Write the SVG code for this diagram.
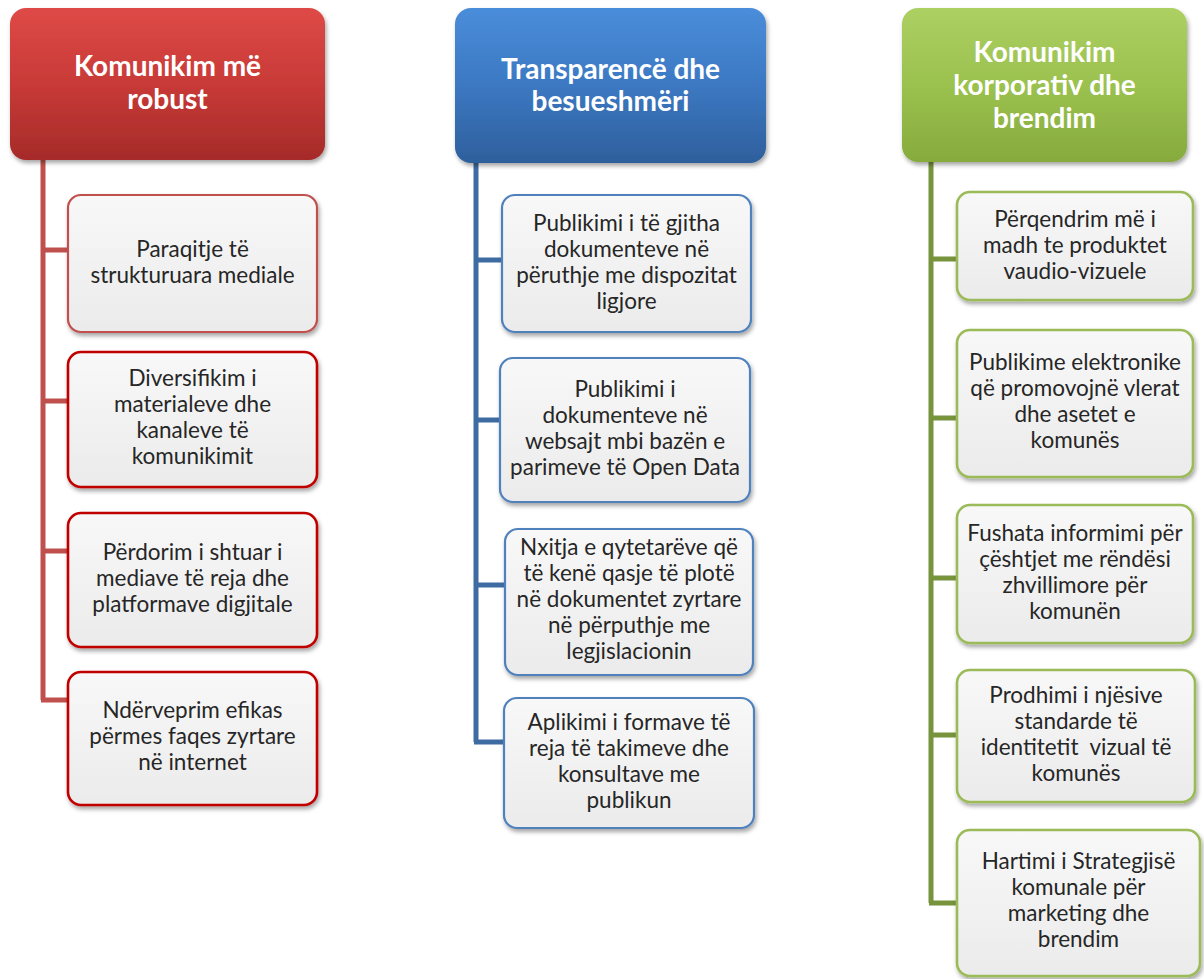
<svg xmlns="http://www.w3.org/2000/svg" width="1204" height="979" viewBox="0 0 1204 979">
<defs>
  <linearGradient id="gRed" x1="0" y1="0" x2="0" y2="1">
    <stop offset="0" stop-color="#DE4A47"/>
    <stop offset="0.5" stop-color="#C83A37"/>
    <stop offset="1" stop-color="#A52B29"/>
  </linearGradient>
  <linearGradient id="gBlue" x1="0" y1="0" x2="0" y2="1">
    <stop offset="0" stop-color="#4A8DDA"/>
    <stop offset="0.5" stop-color="#3C78C2"/>
    <stop offset="1" stop-color="#2E5F9C"/>
  </linearGradient>
  <linearGradient id="gGreen" x1="0" y1="0" x2="0" y2="1">
    <stop offset="0" stop-color="#ACD062"/>
    <stop offset="0.5" stop-color="#9BC14F"/>
    <stop offset="1" stop-color="#86AB3D"/>
  </linearGradient>
  <linearGradient id="gBox" x1="0" y1="0" x2="0" y2="1">
    <stop offset="0" stop-color="#F8F8F8"/>
    <stop offset="1" stop-color="#EBEBEB"/>
  </linearGradient>
  <filter id="sh" x="-10%" y="-10%" width="125%" height="130%">
    <feDropShadow dx="1.5" dy="3" stdDeviation="2.2" flood-color="#000" flood-opacity="0.35"/>
  </filter>
</defs>
<style>
  .hdr { stroke: none; filter: url(#sh); }
  .box { fill: url(#gBox); stroke-width: 2.2; filter: url(#sh); }
  .r1 { stroke: #C0504D; }
  .r2 { stroke: #C00000; stroke-width: 2.6; }
  .b { stroke: #4F81BD; }
  .g { stroke: #9BBB59; stroke-width: 2.6; }
  .ht { font-family: Lato, "Liberation Sans", sans-serif; font-weight: bold; font-size: 28px; fill: #FFFFFF; text-anchor: middle; }
  .t { font-family: Lato, "Liberation Sans", sans-serif; font-size: 22.5px; fill: #262626; text-anchor: middle; }
  .pre { white-space: pre; }
  .cr { stroke: #C0504D; stroke-width: 5; fill: none; }
  .cb { stroke: #3F6BA3; stroke-width: 5; fill: none; }
  .cg { stroke: #77933C; stroke-width: 5; fill: none; }
</style>

<g id="connectors">
  <path class="cr" d="M43 160 V700 M43 250 H70 M43 401 H70 M43 551 H70 M41 700 H70"/>
  <path class="cb" d="M476 163 V742 M476 260 H504 M476 420 H502 M476 585 H507 M474 742 H506"/>
  <path class="cg" d="M931 162 V903 M931 259 H959 M931 418 H959 M931 578 H959 M931 735 H959 M929 903 H959"/>
</g>

<g id="h1">
  <rect class="hdr" x="10" y="8" width="315" height="152" rx="16" fill="url(#gRed)"/>
  <text class="ht" x="167.5" y="76">Komunikim më</text>
  <text class="ht" x="167.5" y="109">robust</text>
</g>
<g id="h2">
  <rect class="hdr" x="455" y="8" width="311" height="155" rx="16" fill="url(#gBlue)"/>
  <text class="ht" x="610.5" y="79">Transparencë dhe</text>
  <text class="ht" x="610.5" y="111">besueshmëri</text>
</g>
<g id="h3">
  <rect class="hdr" x="902" y="8" width="285" height="154" rx="16" fill="url(#gGreen)"/>
  <text class="ht" x="1044.5" y="62">Komunikim</text>
  <text class="ht" x="1044.5" y="95">korporativ dhe</text>
  <text class="ht" x="1044.5" y="128">brendim</text>
</g>

<g id="c1n1">
  <rect class="box r1" x="68" y="195" width="249" height="137" rx="13"/>
  <text class="t" x="192.5" y="257">Paraqitje të</text>
  <text class="t" x="192.5" y="283">strukturuara mediale</text>
</g>
<g id="c1n2">
  <rect class="box r2" x="68" y="352" width="249" height="135" rx="13"/>
  <text class="t" x="192.5" y="386">Diversifikim i</text>
  <text class="t" x="192.5" y="412">materialeve dhe</text>
  <text class="t" x="192.5" y="438">kanaleve të</text>
  <text class="t" x="192.5" y="464">komunikimit</text>
</g>
<g id="c1n3">
  <rect class="box r2" x="68" y="513" width="249" height="134" rx="13"/>
  <text class="t" x="192.5" y="560">Përdorim i shtuar i</text>
  <text class="t" x="192.5" y="586">mediave të reja dhe</text>
  <text class="t" x="192.5" y="612">platformave digjitale</text>
</g>
<g id="c1n4">
  <rect class="box r2" x="68" y="672" width="249" height="133" rx="13"/>
  <text class="t" x="192.5" y="718">Ndërveprim efikas</text>
  <text class="t" x="192.5" y="744">përmes faqes zyrtare</text>
  <text class="t" x="192.5" y="770">në internet</text>
</g>

<g id="c2n1">
  <rect class="box b" x="502" y="195" width="249" height="137" rx="13"/>
  <text class="t" x="626.5" y="231">Publikimi i të gjitha</text>
  <text class="t" x="626.5" y="257">dokumenteve në</text>
  <text class="t" x="626.5" y="283">përuthje me dispozitat</text>
  <text class="t" x="626.5" y="309">ligjore</text>
</g>
<g id="c2n2">
  <rect class="box b" x="500" y="358" width="250" height="144" rx="13"/>
  <text class="t" x="625" y="397">Publikimi i</text>
  <text class="t" x="625" y="423">dokumenteve në</text>
  <text class="t" x="625" y="449">websajt mbi bazën e</text>
  <text class="t" x="625" y="475">parimeve të Open Data</text>
</g>
<g id="c2n3">
  <rect class="box b" x="505" y="529" width="248" height="146" rx="13"/>
  <text class="t" x="629" y="555">Nxitja e qytetarëve që</text>
  <text class="t" x="629" y="581">të kenë qasje të plotë</text>
  <text class="t" x="629" y="607">në dokumentet zyrtare</text>
  <text class="t" x="629" y="633">në përputhje me</text>
  <text class="t" x="629" y="659">legjislacionin</text>
</g>
<g id="c2n4">
  <rect class="box b" x="504" y="698" width="250" height="130" rx="13"/>
  <text class="t" x="629" y="730">Aplikimi i formave të</text>
  <text class="t" x="629" y="756">reja të takimeve dhe</text>
  <text class="t" x="629" y="782">konsultave me</text>
  <text class="t" x="629" y="808">publikun</text>
</g>

<g id="c3n1">
  <rect class="box g" x="957" y="192" width="236" height="108" rx="13"/>
  <text class="t" x="1075" y="227">Përqendrim më i</text>
  <text class="t" x="1075" y="253">madh te produktet</text>
  <text class="t" x="1075" y="279">vaudio-vizuele</text>
</g>
<g id="c3n2">
  <rect class="box g" x="957" y="330" width="236" height="147" rx="13"/>
  <text class="t" x="1075" y="370">Publikime elektronike</text>
  <text class="t" x="1075" y="396">që promovojnë vlerat</text>
  <text class="t" x="1075" y="422">dhe asetet e</text>
  <text class="t" x="1075" y="448">komunës</text>
</g>
<g id="c3n3">
  <rect class="box g" x="957" y="505" width="236" height="138" rx="13"/>
  <text class="t" x="1075" y="541">Fushata informimi për</text>
  <text class="t" x="1075" y="567">çështjet me rëndësi</text>
  <text class="t" x="1075" y="593">zhvillimore për</text>
  <text class="t" x="1075" y="619">komunën</text>
</g>
<g id="c3n4">
  <rect class="box g" x="957" y="670" width="238" height="132" rx="13"/>
  <text class="t" x="1076" y="703">Prodhimi i njësive</text>
  <text class="t" x="1076" y="729">standarde të</text>
  <text class="t pre" x="1076" y="755">identitetit  vizual të</text>
  <text class="t" x="1076" y="781">komunës</text>
</g>
<g id="c3n5">
  <rect class="box g" x="957" y="830" width="243" height="146" rx="13"/>
  <text class="t" x="1078.5" y="869">Hartimi i Strategjisë</text>
  <text class="t" x="1078.5" y="895">komunale për</text>
  <text class="t" x="1078.5" y="921">marketing dhe</text>
  <text class="t" x="1078.5" y="947">brendim</text>
</g>
</svg>
